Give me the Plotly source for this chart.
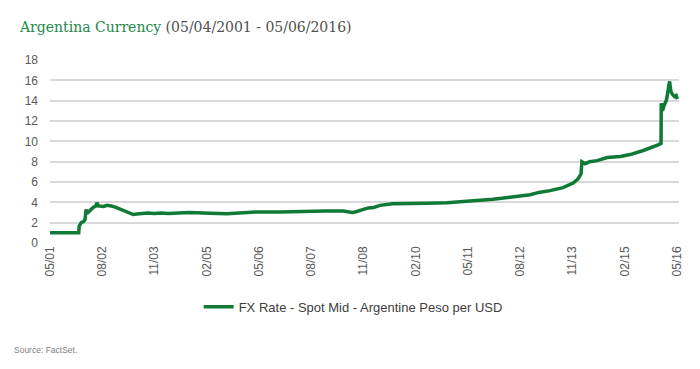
import plotly.graph_objects as go

dates = [
    "2001-05-04", "2001-09-01", "2001-12-31", "2002-01-10", "2002-01-14", "2002-02-01",
    "2002-02-20", "2002-03-06", "2002-03-15", "2002-03-22", "2002-04-01", "2002-04-20",
    "2002-05-15", "2002-06-05", "2002-06-20", "2002-07-01", "2002-07-15", "2002-08-15",
    "2002-09-15", "2002-10-20", "2002-12-01", "2003-01-15", "2003-02-20", "2003-04-01",
    "2003-05-01", "2003-06-01", "2003-07-01", "2003-09-01", "2003-11-01", "2004-01-01",
    "2004-03-01", "2004-05-01", "2004-07-01", "2004-09-01", "2004-11-01", "2005-01-01",
    "2005-03-01", "2005-07-28", "2005-12-15", "2006-04-01", "2006-11-05", "2007-03-01",
    "2007-07-23", "2007-12-01", "2008-05-07", "2008-06-15", "2008-07-25", "2008-08-20",
    "2008-10-05", "2008-12-15", "2009-01-30", "2009-03-25", "2009-07-15", "2009-12-10",
    "2010-05-10", "2010-11-01", "2011-02-25", "2011-07-01", "2011-12-10", "2012-05-05",
    "2012-10-27", "2013-01-22", "2013-04-20", "2013-08-10", "2013-11-08", "2013-12-20",
    "2014-01-15", "2014-01-23", "2014-02-20", "2014-04-01", "2014-06-05", "2014-09-01",
    "2014-12-25", "2015-03-20", "2015-07-13", "2015-11-20", "2015-12-15", "2015-12-17",
    "2015-12-28", "2016-01-10", "2016-01-20", "2016-02-01", "2016-02-28", "2016-03-10",
    "2016-03-25", "2016-04-10", "2016-04-25", "2016-05-06",
]
fx_rate = [
    1.00, 1.00, 1.00, 1.00, 1.65, 2.00,
    2.10, 2.30, 3.30, 2.95, 3.00, 3.20,
    3.50, 3.60, 3.95, 3.65, 3.65, 3.60,
    3.70, 3.65, 3.50, 3.30, 3.10, 2.95,
    2.80, 2.85, 2.90, 2.95, 2.90, 2.95,
    2.90, 2.95, 2.98, 3.00, 2.97, 2.98,
    2.93, 2.88, 3.00, 3.05, 3.05, 3.10,
    3.10, 3.15, 3.15, 3.05, 3.00, 3.05,
    3.20, 3.45, 3.50, 3.70, 3.85, 3.85,
    3.92, 3.97, 4.05, 4.12, 4.30, 4.50,
    4.75, 5.00, 5.15, 5.45, 5.90, 6.30,
    6.80, 8.00, 7.80, 8.00, 8.10, 8.40,
    8.50, 8.70, 9.10, 9.65, 9.80, 13.75,
    13.00, 13.50, 13.90, 14.10, 15.90, 14.90,
    14.60, 14.40, 14.50, 14.15,
]
tick_dates = ["2001-05-04", "2002-08-01", "2003-11-01", "2005-02-01", "2006-05-01",
              "2007-08-01", "2008-11-01", "2010-02-01", "2011-05-01", "2012-08-01",
              "2013-11-01", "2015-02-01", "2016-05-06"]
tick_labels = ["05/01", "08/02", "11/03", "02/05", "05/06", "08/07", "11/08",
               "02/10", "05/11", "08/12", "11/13", "02/15", "05/16"]
y_ticks = list(range(0, 20, 2))

series_name = "FX Rate - Spot Mid - Argentine Peso per USD"
line_color = "#0f7a35"
grey = "#595959"

# the page body adds an 8px offset, so the figure is drawn 8px smaller
W, H = 692, 361
ML, MR, MT, MB = 42, 21, 52, 126
PW, PH = W - ML - MR, H - MT - MB

fig = go.Figure()
fig.add_trace(go.Scatter(
    x=dates, y=fx_rate, mode="lines", name=series_name,
    line=dict(color=line_color, width=3.5),
))

fig.update_layout(
    width=W, height=H,
    margin=dict(l=ML, r=MR, t=MT, b=MB, autoexpand=False),
    paper_bgcolor="white", plot_bgcolor="white",
    font=dict(family="Liberation Sans, Arial, sans-serif", size=12, color=grey),
    showlegend=True,
    legend=dict(orientation="h", x=0.482, xanchor="center", y=-63.7 / PH, yanchor="middle",
                font=dict(size=13, color="#404040")),
    title=dict(
        text="<span style='color:#23884a'>Argentina Currency</span> (05/04/2001 - 05/06/2016)",
        font=dict(family="DejaVu Serif, Georgia, serif", size=14, color="#505050"),
        x=12 / W, xanchor="left", xref="container",
        y=1 - 19 / H, yanchor="middle", yref="container",
    ),
    annotations=[dict(
        text="Source: FactSet.", xref="paper", yref="paper",
        x=(4 - ML) / PW, xanchor="left", y=-(342 - 235.3) / PH, yanchor="middle",
        showarrow=False, font=dict(size=8.5, color="#7f7f7f"),
    )],
)
fig.update_xaxes(
    type="date", range=["2001-05-04", "2016-05-20"],
    tickmode="array", tickvals=tick_dates, ticktext=tick_labels,
    tickangle=-90, showgrid=False, showline=False, zeroline=False, ticks="",
    tickfont=dict(size=12, color=grey),
)
fig.update_yaxes(
    range=[0, 18], tickmode="array", tickvals=y_ticks,
    showgrid=True, gridcolor="#d9d9d9", gridwidth=1.5,
    zeroline=False, showline=False, ticks="", ticklabelstandoff=11,
    tickfont=dict(size=12, color=grey),
)

fig.write_html("out.html")
